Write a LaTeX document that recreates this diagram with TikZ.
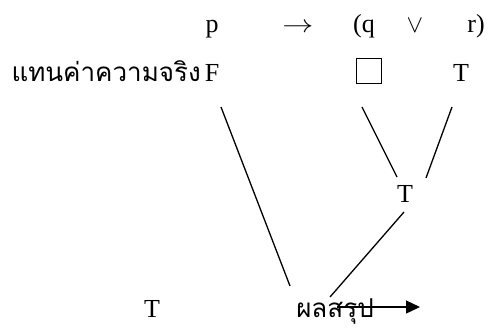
\documentclass[tikz,border=0pt]{standalone}
\usepackage{fontspec}
\setmainfont{Liberation Serif}
\newfontfamily\thaifont[Script=Thai]{Loma}
\usetikzlibrary{arrows.meta}
\tikzset{
  txt/.style={inner sep=0pt, anchor=base, font=\fontsize{26}{30}\selectfont},
  thai/.style={inner sep=0pt, anchor=base, font=\fontsize{26}{30}\selectfont\thaifont},
  conn/.style={line width=1.3pt},
}
\begin{document}
\begin{tikzpicture}[x=1pt,y=-1pt]
\useasboundingbox (0,0) rectangle (489,327);
% row 1
\node[txt] (p) at (212,32) {p};
\node[txt] (imp) at (298,32) {\scalebox{1.25}[1]{$\rightarrow$}};
\node[txt] (q) at (364,32) {(q};
\node[txt] (or) at (415,32) {$\vee$};
\node[txt] (r) at (476,32) {r)};
% row 2
\node[thai, anchor=base east] (lab) at (201,81) {แทนค่าความจริง};
\node[txt] (F) at (212,81) {F};
\node[draw, line width=1.1pt, minimum size=25pt, inner sep=0pt] (box) at (369,71) {};
\node[txt] (T1) at (461,81) {T};
% middle
\node[txt] (T2) at (405,202) {T};
% bottom
\node[txt] (T3) at (152,317) {T};
\node[thai] (res) at (335,317) {ผลสรุป};
% connector ends
\coordinate (a1) at (221,107);
\coordinate (a2) at (290,286);
\coordinate (b1) at (362,107);
\coordinate (b2) at (397,177);
\coordinate (c1) at (452,107);
\coordinate (c2) at (426,178);
\coordinate (d1) at (404,212);
\coordinate (d2) at (330,297);
\coordinate (e1) at (337,307);
\coordinate (e2) at (420,307);
\draw[conn] (a1) -- (a2);
\draw[conn] (b1) -- (b2);
\draw[conn] (c1) -- (c2);
\draw[conn] (d1) -- (d2);
\draw[conn, -{Triangle[length=14pt,width=13pt]}] (e1) -- (e2);
\end{tikzpicture}
\end{document}
